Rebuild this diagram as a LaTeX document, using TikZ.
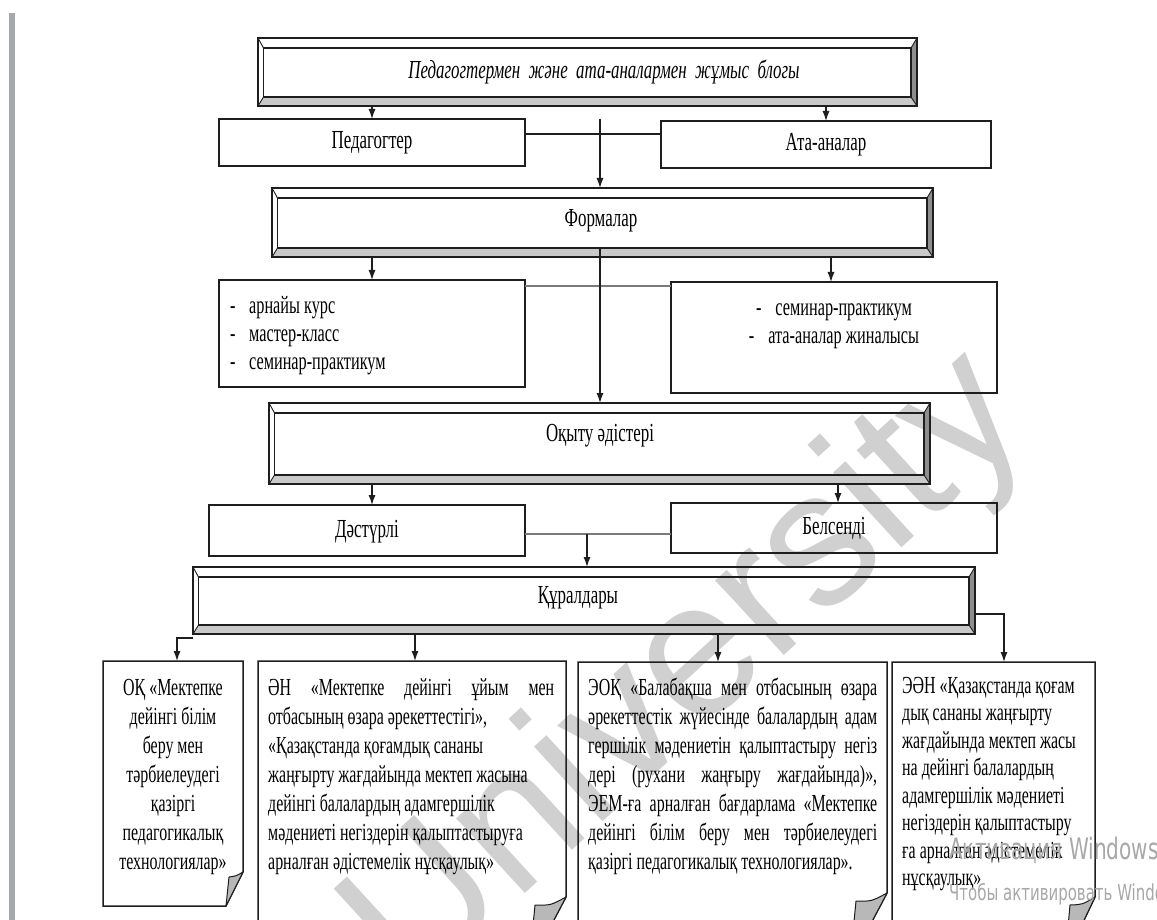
\documentclass[tikz,border=0pt]{standalone}
\usepackage{fontspec}
\setmainfont{Liberation Serif}[FakeStretch=0.65]
\newfontfamily\wmfont{Liberation Sans}
\newfontfamily\winfont{DejaVu Sans}[FakeStretch=0.68]
\usetikzlibrary{arrows.meta,calc}
\definecolor{linec}{HTML}{1E1E1E}
\definecolor{bevB}{HTML}{C9C9C9}
\definecolor{bevR}{HTML}{8E8E8E}
\definecolor{barc}{HTML}{A6A9AC}
\definecolor{foldc}{HTML}{B8B8B8}
\definecolor{wmc}{HTML}{D0D0D0}
\definecolor{winc}{HTML}{A8A8A8}
\definecolor{grayln}{HTML}{7A7A7A}

\newcommand\bevelframe[1]{%
  \fill[bevB] (#1.south west) -- (#1.south east) -- ($(#1.south east)+(-6,-9)$) -- ($(#1.south west)+(5.5,-9)$) -- cycle;
  \fill[bevR] (#1.north east) -- (#1.south east) -- ($(#1.south east)+(-6,-9)$) -- ($(#1.north east)+(-6,10)$) -- cycle;
  \draw[frm] (#1.north west) rectangle (#1.south east);
  \draw[frm] ($(#1.north west)+(5.5,10)$) rectangle ($(#1.south east)+(-6,-9)$);
  \draw[frm,line width=0.9pt] (#1.north west) -- ++(5.5,10) (#1.north east) -- ++(-6,10)
        (#1.south east) -- ++(-6,-9) (#1.south west) -- ++(5.5,-9);
}
\newcommand\foldedbox[5]{%
  \draw[frm] (#1.south west) -- (#1.north west) -- (#1.north east) -- ($(#1.south east)+(0,-#3)$) -- ($(#1.south east)+(-#2,0)$) -- cycle;
  \filldraw[fill=foldc, draw=linec, line width=1pt, line join=round]
     ($(#1.south east)+(0,-#3)$) .. controls ($(#1.south east)+({#4/2},{-0.88*#3})$) .. ($(#1.south east)+(#4,#5)$)
     -- ($(#1.south east)+(-#2,0)$) -- cycle;
}

\begin{document}
\begin{tikzpicture}[x=1pt,y=-1pt,
  frm/.style={draw=linec,line width=1.5pt},
  ghost/.style={inner sep=0pt,outer sep=0pt},
  rbox/.style={draw=linec,line width=1.5pt,inner sep=0pt,outer sep=0pt},
  lbl/.style={font=\fontsize{26}{30}\selectfont,text height=18pt,text depth=5pt,inner sep=0pt},
  btxt/.style={font=\fontsize{24.5}{29}\selectfont,inner sep=0pt,align=left},
  ftxt/.style={font=\fontsize{25}{28}\selectfont,inner sep=0pt,align=left},
  arr/.style={draw=linec,line width=1.2pt,-{Latex[length=10pt,width=7pt]}},
  ln/.style={draw=linec,line width=1.3pt},
  gln/.style={draw=grayln,line width=2.2pt}
]
\useasboundingbox (0,0) rectangle (1157,920);
\clip (0,0) rectangle (1157,920);
\fill[white] (0,0) rectangle (1157,920);
\fill[barc] (9,13) rectangle (14.5,920);

% watermark
\node[font=\wmfont\fontsize{192}{192}\selectfont,text=wmc,rotate=42.5,inner sep=0pt] (wm) at (690,675) {University};

% top block
\node[ghost,minimum width=659pt,minimum height=68pt] (top) at (587.5,72) {};
\bevelframe{top}
\node[lbl,font=\fontsize{26}{30}\selectfont\itshape] (topT) at (604,72) {Педагогтермен \ және \ ата-аналармен \ жұмыс \ блогы};

\node[rbox,lbl,minimum width=306pt,minimum height=47pt] (ped) at (372,142.5) {Педагогтер};
\node[rbox,lbl,minimum width=330pt,minimum height=47pt] (ata) at (826,144.5) {Ата-аналар};

\node[ghost,minimum width=661pt,minimum height=69pt] (form) at (602.5,222.5) {};
\bevelframe{form}
\node[lbl] (formT) at (601,220) {Формалар};

\node[rbox,minimum width=306pt,minimum height=107pt] (fl) at (372,333.5) {};
\node[ftxt,anchor=north west] (flT) at (230,293.4) {\strut\makebox[19pt][l]{-}арнайы курс\\\makebox[19pt][l]{-}мастер-класс\\\makebox[19pt][l]{-}семинар-практикум};
\node[rbox,minimum width=326pt,minimum height=111pt] (fr) at (834,337.5) {};
\node[ftxt,align=center,anchor=north] (frT) at (834,295.4) {\strut -\hspace{14pt}семинар-практикум\\-\hspace{14pt}ата-аналар жиналысы};

\node[ghost,minimum width=661pt,minimum height=81pt] (oqy) at (599.5,443.5) {};
\bevelframe{oqy}
\node[lbl] (oqyT) at (600,435) {Оқыту әдістері};

\node[rbox,lbl,minimum width=316pt,minimum height=51pt] (dast) at (367,530.5) {Дәстүрлі};
\node[rbox,lbl,minimum width=326pt,minimum height=50pt] (bel) at (834,528) {Белсенді};

\node[ghost,minimum width=782pt,minimum height=67pt] (qur) at (584,600.5) {};
\bevelframe{qur}
\node[lbl] (qurT) at (578,597) {Құралдары};

% bottom boxes
\node[ghost,minimum width=140pt,minimum height=245pt] (ok) at (173,783.5) {};
\foldedbox{ok}{17}{34}{-14}{-29}
\node[btxt,align=center,anchor=north] (okT) at (173,674.7) {\strut ОҚ «Мектепке\\дейінгі білім\\беру мен\\тәрбиелеудегі\\қазіргі\\педагогикалық\\технологиялар»};

\node[ghost,minimum width=308pt,minimum height=306pt] (an) at (412,814) {};
\foldedbox{an}{37}{70}{-31}{-62}
\node[btxt,anchor=north west] (anT) at (268,674.7) {\strut\makebox[286pt][s]{ӘН «Мектепке дейінгі ұйым мен}\\отбасының өзара әрекеттестігі»,\\«Қазақстанда қоғамдық сананы\\жаңғырту жағдайында мектеп жасына\\дейінгі балалардың адамгершілік\\мәдениеті негіздерін қалыптастыруға\\арналған әдістемелік нұсқаулық»};

\node[ghost,minimum width=309pt,minimum height=301pt] (eok) at (732.5,812.5) {};
\foldedbox{eok}{37}{70}{-31}{-62}
\node[btxt,anchor=north west] (eokT) at (588,674.7) {\strut\makebox[289pt][s]{ЭОҚ «Балабақша мен отбасының өзара}\\\makebox[289pt][s]{әрекеттестік жүйесінде балалардың адам}\\\makebox[289pt][s]{гершілік мәдениетін қалыптастыру негіз}\\\makebox[289pt][s]{дері (рухани жаңғыру жағдайында)»,}\\\makebox[289pt][s]{ЭЕМ-ға арналған бағдарлама «Мектепке}\\\makebox[289pt][s]{дейінгі білім беру мен тәрбиелеудегі}\\қазіргі педагогикалық технологиялар».};

\node[ghost,minimum width=203pt,minimum height=298pt] (ean) at (993.5,811) {};
\foldedbox{ean}{30}{63}{-25}{-55}
\node[btxt,font=\fontsize{24.5}{27.5}\selectfont,anchor=north west] (eanT) at (902,673.75) {\strut ЭӘН «Қазақстанда қоғам\\дық сананы жаңғырту\\жағдайында мектеп жасы\\на дейінгі балалардың\\адамгершілік мәдениеті\\негіздерін қалыптастыру\\ға арналған әдістемелік\\нұсқаулық»};

% connectors
\draw[arr] (top.south -| ped.north) -- (ped.north);
\draw[arr] (top.south -| ata.north) -- (ata.north);
\coordinate (hPA) at (600,134);
\coordinate (vPA) at (600,119);
\draw[ln] (ped.east |- hPA) -- (ata.west |- hPA);
\draw[arr] (vPA) -- (vPA |- form.north);

\coordinate (aFR) at (831,257);
\draw[arr] (form.south -| fl.north) -- (fl.north);
\draw[arr] (aFR) -- (aFR |- fr.north);
\coordinate (hF) at (600,286);
\draw[gln] (fl.east |- hF) -- (fr.west |- hF);
\coordinate (vF) at (600,249);
\draw[arr] (vF) -- (vF |- oqy.north);

\coordinate (aD) at (372,484);
\coordinate (aB) at (838,484);
\draw[arr] (aD) -- (aD |- dast.north);
\draw[arr] (aB) -- (aB |- bel.north);
\coordinate (hM) at (587,534);
\draw[gln] (dast.east |- hM) -- (bel.west |- hM);
\draw[arr] (hM) -- (hM |- qur.north);

\coordinate (cOK) at (177,638);
\draw[arr] (qur.south west |- cOK) -- (cOK) -- (cOK |- ok.north);
\coordinate (xAN) at (415,634);
\draw[arr] (xAN) -- (xAN |- an.north);
\coordinate (xEOK) at (718,634);
\draw[arr] (xEOK) -- (xEOK |- eok.north);
\coordinate (cEAN) at (1004,614);
\draw[arr] (qur.east |- cEAN) -- (cEAN) -- (cEAN |- ean.north);

% overlay text
\node[anchor=west,font=\winfont\fontsize{29.5}{33}\selectfont,text=winc,inner sep=0pt] (act1) at (949,850) {Активация Windows};
\node[anchor=west,font=\winfont\fontsize{22}{25}\selectfont,text=winc,inner sep=0pt] (act2) at (949,894) {Чтобы активировать Windows};
\end{tikzpicture}
\end{document}
